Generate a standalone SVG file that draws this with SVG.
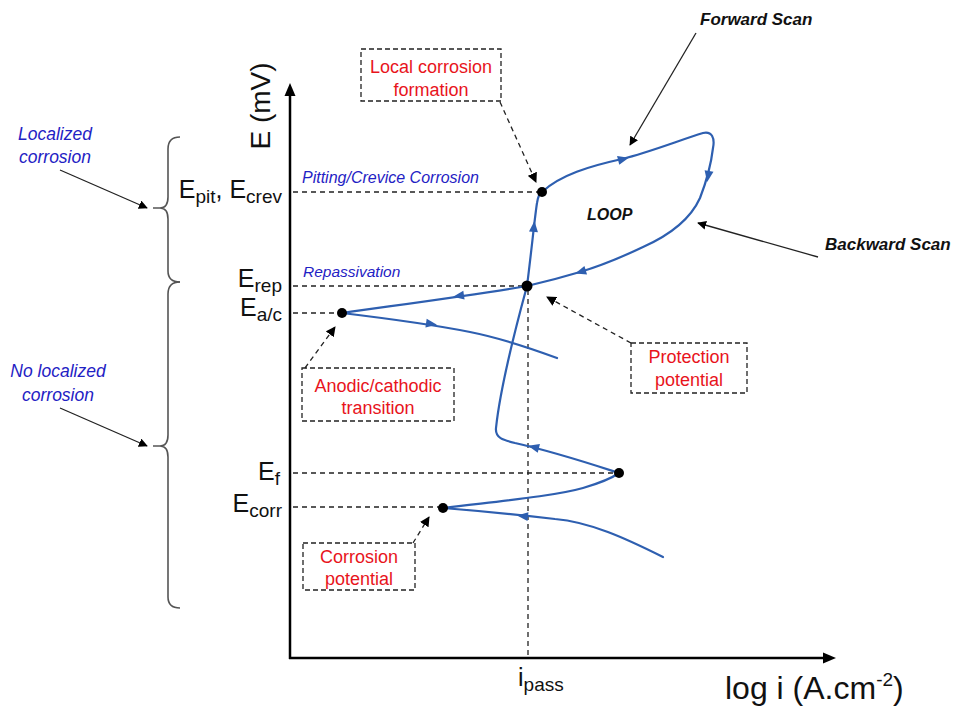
<svg xmlns="http://www.w3.org/2000/svg" xmlns:xlink="http://www.w3.org/1999/xlink" width="955" height="708" viewBox="0 0 955 708">
<style>
text{font-family:"Liberation Sans",Arial,sans-serif}
.red{fill:#e8141c;font-size:18px;text-anchor:middle}
.blue{fill:#1f22c4;font-style:italic}
.bi{fill:#111;font-style:italic;font-weight:bold}
.lab{fill:#111;font-size:25px;text-anchor:end}
.sub{font-size:19px}
.box{fill:none;stroke:#222;stroke-width:1.3;stroke-dasharray:5,3}
.dash{fill:none;stroke:#222;stroke-width:1.3;stroke-dasharray:5,4}
.curve{fill:none;stroke:#2e5fb0;stroke-width:2.2;stroke-linecap:round}
.axis{stroke:#000;stroke-width:2.5;fill:none}
.brace{fill:none;stroke:#555;stroke-width:1.6}
.solid{stroke:#222;stroke-width:1.3;fill:none}
.dot{fill:#000}
</style>
<defs>
<marker id="mk" viewBox="0 0 10 10" refX="9" refY="5" markerWidth="9" markerHeight="9" markerUnits="userSpaceOnUse" orient="auto">
<path d="M0,0 L10,5 L0,10 Z" fill="#000"/>
</marker>
<marker id="mkd" viewBox="0 0 10 10" refX="9" refY="5" markerWidth="10" markerHeight="10" markerUnits="userSpaceOnUse" orient="auto">
<path d="M0,0 L10,5 L0,10 Z" fill="#000"/>
</marker>
<path id="ah" d="M5,0 L-6,-4.5 L-6,4.5 Z" fill="#2e5fb0"/>
</defs>

<!-- axes -->
<g id="axes">
<line class="axis" x1="290" y1="659" x2="290" y2="94"/>
<path d="M290,83 L284.5,96 L295.5,96 Z" fill="#000"/>
<line class="axis" x1="289" y1="658" x2="825" y2="658"/>
<path d="M836,658 L823,652.5 L823,663.5 Z" fill="#000"/>
<text x="270" y="106" transform="rotate(-90 270 106)" style="font-size:28px;text-anchor:middle;fill:#111">E (mV)</text>
<text x="725" y="699" style="font-size:32px;fill:#111">log i (A.cm<tspan dy="-13" style="font-size:19px">-2</tspan><tspan dy="13">)</tspan></text>
<text x="518" y="686" style="font-size:25px;fill:#111">i<tspan class="sub" dy="5">pass</tspan></text>
</g>

<!-- potential labels -->
<g id="labels">
<text class="lab" x="282" y="198">E<tspan class="sub" dy="5">pit</tspan><tspan dy="-5">, E</tspan><tspan class="sub" dy="5">crev</tspan></text>
<text class="lab" x="282" y="287">E<tspan class="sub" dy="5">rep</tspan></text>
<text class="lab" x="282" y="316">E<tspan class="sub" dy="5">a/c</tspan></text>
<text class="lab" x="280" y="480">E<tspan class="sub" dy="5">f</tspan></text>
<text class="lab" x="282" y="512">E<tspan class="sub" dy="5">corr</tspan></text>
<text class="blue" x="302" y="183" style="font-size:16px">Pitting/Crevice Corrosion</text>
<text class="blue" x="303" y="277" style="font-size:15.5px">Repassivation</text>
<text class="bi" x="587" y="220" style="font-size:16px">LOOP</text>
</g>

<!-- braces -->
<g id="braces">
<path class="brace" d="M180,137 Q168,137 168,149 L168,197 Q168,208 160,208 L153,208 M160,208 Q168,208 168,219 L168,271 Q168,282 180,282"/>
<path class="brace" d="M180,282 Q168,282 168,294 L168,435 Q168,446 160,446 L153,446 M160,446 Q168,446 168,457 L168,597 Q168,608 180,608"/>
</g>

<g id="localized">
<text class="blue" x="55" y="140" style="font-size:17.5px;text-anchor:middle">Localized</text>
<text class="blue" x="55" y="163" style="font-size:17.5px;text-anchor:middle">corrosion</text>
</g>
<g id="no-localized">
<text class="blue" x="58" y="377" style="font-size:17.5px;text-anchor:middle">No localized</text>
<text class="blue" x="58" y="401" style="font-size:17.5px;text-anchor:middle">corrosion</text>
</g>
<g id="forward-scan">
<text class="bi" x="700" y="25" style="font-size:17px">Forward Scan</text>
</g>
<g id="backward-scan">
<text class="bi" x="825" y="250" style="font-size:17px">Backward Scan</text>
</g>

<!-- boxes -->
<g id="box-local">
<rect class="box" x="361" y="49" width="140" height="52"/>
<text class="red" x="431" y="73">Local corrosion</text>
<text class="red" x="431" y="96">formation</text>
</g>
<g id="box-protection">
<rect class="box" x="631" y="343" width="116" height="50"/>
<text class="red" x="689" y="363">Protection</text>
<text class="red" x="689" y="386">potential</text>
</g>
<g id="box-anodic">
<rect class="box" x="302" y="368" width="152" height="53"/>
<text class="red" x="378" y="392">Anodic/cathodic</text>
<text class="red" x="378" y="414">transition</text>
</g>
<g id="box-corrosion">
<rect class="box" x="303" y="543" width="112" height="47"/>
<text class="red" x="359" y="563">Corrosion</text>
<text class="red" x="359" y="585">potential</text>
</g>

<!-- connectors -->
<g id="connectors">
<!-- reference dashed lines -->
<line class="dash" x1="293" y1="192" x2="540" y2="192"/>
<line class="dash" x1="293" y1="286" x2="526" y2="286"/>
<line class="dash" x1="293" y1="313" x2="340" y2="313"/>
<line class="dash" x1="293" y1="473" x2="617" y2="473"/>
<line class="dash" x1="293" y1="507" x2="441" y2="507"/>
<line class="dash" x1="528" y1="290" x2="528" y2="656"/>
<!-- dashed pointer arrows -->
<line class="dash" x1="500" y1="102" x2="536" y2="182" marker-end="url(#mkd)"/>
<line class="dash" x1="631" y1="343" x2="547" y2="297" marker-end="url(#mkd)"/>
<line class="dash" x1="305" y1="368" x2="335" y2="327" marker-end="url(#mkd)"/>
<line class="dash" x1="413" y1="543" x2="429" y2="517" marker-end="url(#mkd)"/>
<!-- solid pointer arrows -->
<line class="solid" x1="60" y1="170" x2="147" y2="208" marker-end="url(#mk)"/>
<line class="solid" x1="60" y1="408" x2="147" y2="446" marker-end="url(#mk)"/>
<line class="solid" x1="696" y1="33" x2="630" y2="145" marker-end="url(#mk)"/>
<line class="solid" x1="818" y1="257" x2="698" y2="223" marker-end="url(#mk)"/>
<!-- polarization curve -->
<path class="curve" d="M663,557 C625,538 590,522 555,519 C520,515 480,511 443,508"/>
<path class="curve" d="M443,508 C500,501 555,496 583,488 C600,483 612,478 619,473"/>
<path class="curve" d="M619,473 C585,462 555,452 515,443 C503,440 495,438 496,428 C500,390 515,330 527,286"/>
<path class="curve" d="M527,286 C531,255 535,215 537,203 C538,196 540,193 542,192"/>
<path class="curve" d="M542,192 C560,175 590,166 622,159 C650,152 680,140 703,133 C712,131 715,138 713,148 C711,165 707,180 700,198 C690,220 670,235 643,247 C620,258 600,266 580,272 C560,278 540,283 527,286"/>
<path class="curve" d="M527,286 C480,294 420,302 342,313"/>
<path class="curve" d="M342,313 C400,320 440,326 470,332 C500,338 530,348 557,358"/>
<!-- direction arrowheads -->
<use xlink:href="#ah" transform="translate(522,516) rotate(186)"/>
<use xlink:href="#ah" transform="translate(533,447) rotate(194)"/>
<use xlink:href="#ah" transform="translate(534,226) rotate(-85)"/>
<use xlink:href="#ah" transform="translate(624,159) rotate(-14)"/>
<use xlink:href="#ah" transform="translate(708,177) rotate(100)"/>
<use xlink:href="#ah" transform="translate(580,272) rotate(163)"/>
<use xlink:href="#ah" transform="translate(458,296) rotate(172)"/>
<use xlink:href="#ah" transform="translate(432,324) rotate(8)"/>
</g>

<!-- points -->
<g id="points">
<circle class="dot" cx="542" cy="192" r="5"/>
<circle class="dot" cx="527" cy="286" r="5.5"/>
<circle class="dot" cx="342" cy="313" r="5"/>
<circle class="dot" cx="619" cy="473" r="5"/>
<circle class="dot" cx="443" cy="508" r="5"/>
</g>
</svg>
